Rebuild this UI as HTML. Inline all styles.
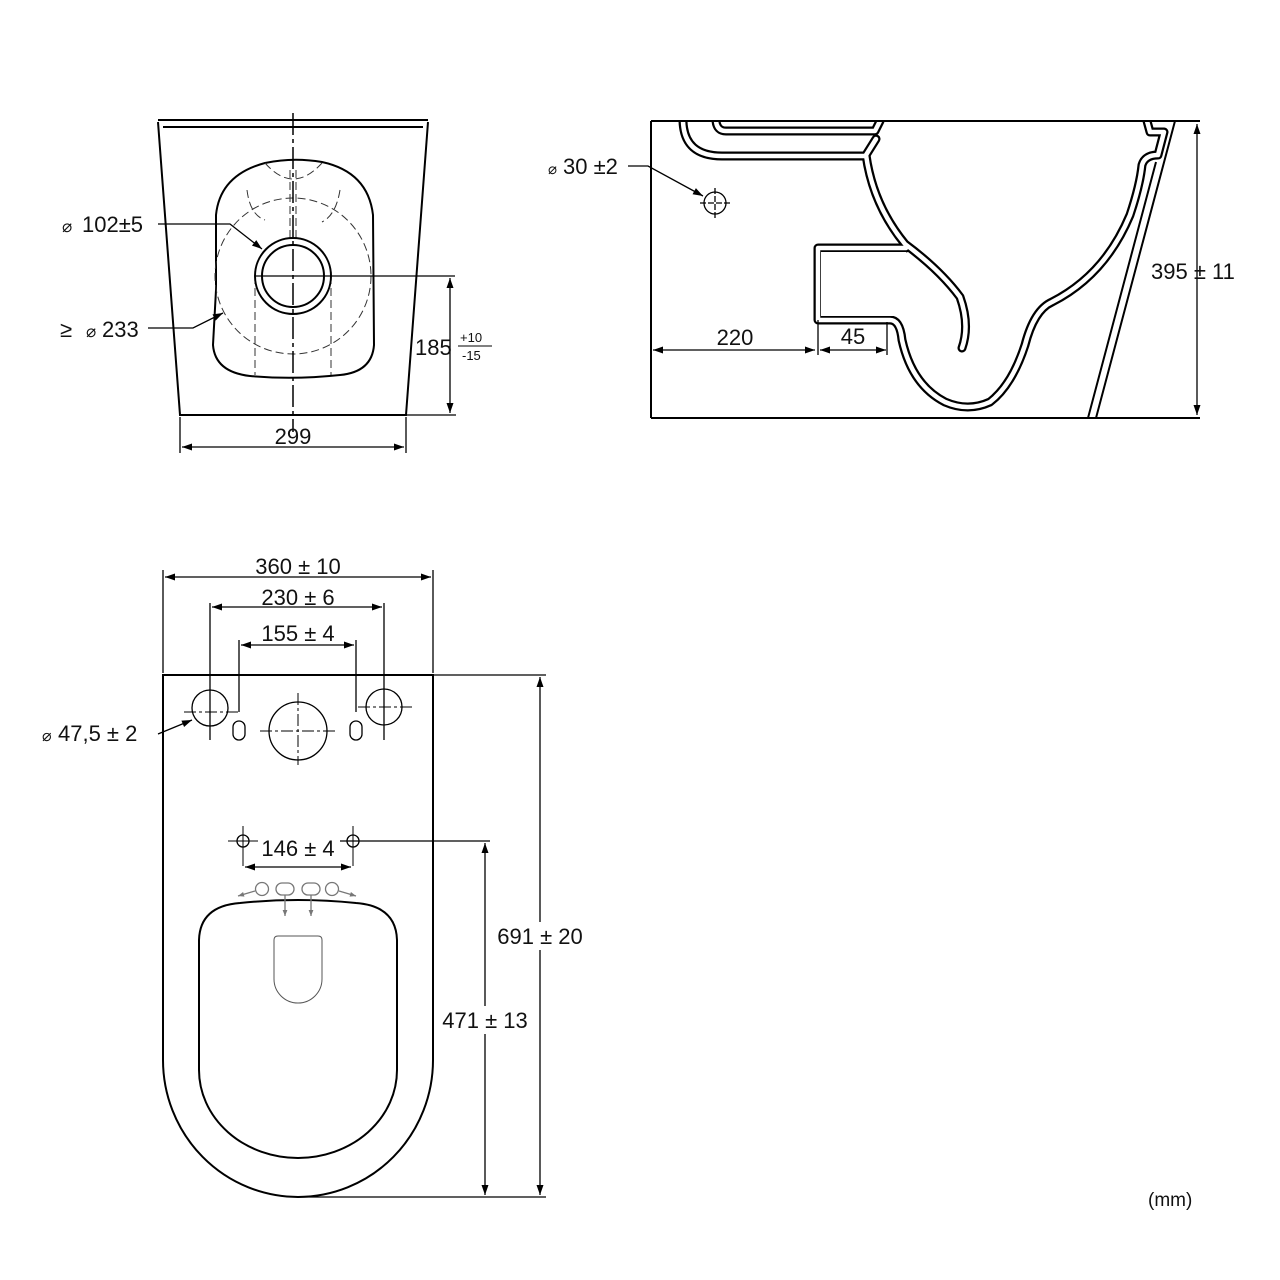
<!DOCTYPE html>
<html><head><meta charset="utf-8"><style>
html,body{margin:0;padding:0;background:#fff}
svg{display:block}
text{font-family:"Liberation Sans",sans-serif;fill:#111}
</style></head><body>
<svg width="1280" height="1280" viewBox="0 0 1280 1280" xmlns="http://www.w3.org/2000/svg">
<defs>
<marker id="a" viewBox="0 0 10 10" refX="10" refY="5" markerWidth="14" markerHeight="10" markerUnits="userSpaceOnUse" orient="auto-start-reverse"><path d="M0,1.5 L10,5 L0,8.5 z" fill="#000"/></marker>
<marker id="g" viewBox="0 0 10 10" refX="10" refY="5" markerWidth="8" markerHeight="6" markerUnits="userSpaceOnUse" orient="auto"><path d="M0,1 L10,5 L0,9 z" fill="#777"/></marker>
</defs>
<g fill="none" stroke="#000" stroke-width="1.3">
<!-- ===== Top-left view ===== -->
<path d="M158,120 L428,120 M163,127 L423,127" stroke-width="2"/>
<path d="M158,122 L180,415 L406,415 L428,122" stroke-width="2"/>
<path d="M216,290 L216,215 Q220,175 265,163 Q293,157 322,162 Q368,172 373,215 L374,345 Q372,372 340,375 Q293,380 250,376 Q215,372 213,345 Z" stroke-width="2"/>
<g stroke-dasharray="8,4" stroke-width="1" stroke="#333">
<circle cx="293" cy="276" r="78"/>
<path d="M265,163 Q293,195 322,163"/>
<path d="M247,190 Q250,215 265,220 M340,190 Q336,215 322,222"/>
<line x1="255" y1="276" x2="255" y2="375"/><line x1="331" y1="276" x2="331" y2="375"/>
<line x1="290" y1="170" x2="290" y2="238"/><line x1="296" y1="170" x2="296" y2="238"/>
</g>
<circle cx="293" cy="276" r="38" stroke-width="2"/>
<circle cx="293" cy="276" r="31" stroke-width="2"/>
<line x1="293" y1="113" x2="293" y2="432" stroke-dasharray="22,4,4,4" stroke-width="1.5"/>
<line x1="255" y1="276" x2="455" y2="276"/>
<line x1="406" y1="415" x2="456" y2="415"/>
<line x1="450" y1="278" x2="450" y2="413" marker-start="url(#a)" marker-end="url(#a)"/>
<line x1="180" y1="417" x2="180" y2="453"/><line x1="406" y1="417" x2="406" y2="453"/>
<line x1="182" y1="447" x2="404" y2="447" marker-start="url(#a)" marker-end="url(#a)"/>
<path d="M158,224 L230,224 L262,249" marker-end="url(#a)"/>
<path d="M148,328 L193,328 L223,313" marker-end="url(#a)"/>

<!-- ===== Side view ===== -->
<path d="M651,121 L1200,121 M651,418 L1200,418 M651,121 L651,418" stroke-width="2"/>
<path d="M1175,121 L1096,418 M1156,162 L1088,418" stroke-width="2"/>
<g stroke-width="9" stroke-linejoin="round" stroke-linecap="round">
<path id="p1" d="M683,121 Q684,156 722,156 L866,156"/>
<path id="p2" d="M716,121 Q717,131 726,131 L875,131 L880,121"/>
<path id="p3" d="M876,139 L866,155 Q873,205 905,244 Q940,270 960,297 Q970,325 962,348"/>
<path id="p4" d="M906,248 L818,248 L818,320 L890,320 Q900,320 902,340 Q912,385 945,402 Q968,412 990,402 Q1012,385 1025,345 Q1034,310 1052,302 Q1105,275 1130,215 Q1140,185 1142,165 Q1145,155 1158,155 L1164,132 L1150,132 L1147,121"/>
</g>
<g stroke="#fff" stroke-width="4.5" stroke-linejoin="round" stroke-linecap="round">
<use href="#p1"/><use href="#p2"/><use href="#p3"/><use href="#p4"/>
</g>
<rect x="652" y="115" width="530" height="5" fill="#fff" stroke="none"/>
<rect x="821" y="252" width="85" height="64" fill="#fff" stroke="none"/>
<line x1="651" y1="121" x2="1200" y2="121" stroke-width="2"/>
<circle cx="715" cy="203" r="11"/>
<line x1="700" y1="203" x2="731" y2="203" stroke-dasharray="6,2"/>
<line x1="715" y1="188" x2="715" y2="220" stroke-dasharray="6,2"/>
<path d="M628,166 L648,166 L703,196" marker-end="url(#a)"/>
<line x1="1197" y1="124" x2="1197" y2="415" marker-start="url(#a)" marker-end="url(#a)"/>
<line x1="653" y1="350" x2="815" y2="350" marker-start="url(#a)" marker-end="url(#a)"/>
<line x1="820" y1="350" x2="886" y2="350" marker-start="url(#a)" marker-end="url(#a)"/>
<line x1="818" y1="320" x2="818" y2="355"/><line x1="887" y1="322" x2="887" y2="355"/>

<!-- ===== Bottom view ===== -->
<path d="M163,675 L433,675 L433,1060 A135,137 0 0 1 163,1060 Z" stroke-width="2"/>
<path d="M199,940 Q200,906 240,903 Q298,897 356,903 Q396,906 397,940 L397,1070 A99,88 0 0 1 199,1070 Z" stroke-width="2"/>
<path d="M274,940 Q274,936 278,936 L318,936 Q322,936 322,940 L322,979 A24,24 0 0 1 274,979 Z" stroke="#555" stroke-width="1"/>
<line x1="163" y1="570" x2="163" y2="673"/><line x1="433" y1="570" x2="433" y2="673"/>
<line x1="165" y1="577" x2="431" y2="577" marker-start="url(#a)" marker-end="url(#a)"/>
<line x1="210" y1="603" x2="210" y2="740"/><line x1="384" y1="603" x2="384" y2="740"/>
<line x1="212" y1="607" x2="382" y2="607" marker-start="url(#a)" marker-end="url(#a)"/>
<line x1="239" y1="640" x2="239" y2="712"/><line x1="356" y1="640" x2="356" y2="712"/>
<line x1="241" y1="645" x2="354" y2="645" marker-start="url(#a)" marker-end="url(#a)"/>
<circle cx="210" cy="708" r="18"/><circle cx="384" cy="707" r="18"/>
<circle cx="298" cy="731" r="29"/>
<rect x="233" y="721" width="12" height="19" rx="6"/><rect x="350" y="721" width="12" height="19" rx="6"/>
<g stroke-dasharray="12,3,3,3" stroke-width="1">
<line x1="184" y1="712" x2="238" y2="712"/><line x1="210" y1="688" x2="210" y2="738"/>
<line x1="358" y1="707" x2="412" y2="707"/><line x1="384" y1="682" x2="384" y2="735"/>
<line x1="260" y1="731" x2="336" y2="731"/><line x1="298" y1="693" x2="298" y2="765"/>
</g>
<path d="M158,734 L192,720" marker-end="url(#a)"/>
<circle cx="243" cy="841" r="6"/><circle cx="353" cy="841" r="6"/>
<line x1="228" y1="841" x2="258" y2="841" stroke-width="1"/><line x1="243" y1="826" x2="243" y2="866" stroke-width="1"/>
<line x1="340" y1="841" x2="490" y2="841"/><line x1="353" y1="826" x2="353" y2="866" stroke-width="1"/>
<line x1="245" y1="867" x2="351" y2="867" marker-start="url(#a)" marker-end="url(#a)"/>
<line x1="433" y1="675" x2="546" y2="675"/>
<line x1="298" y1="1197" x2="546" y2="1197"/>
<line x1="540" y1="677" x2="540" y2="1195" marker-start="url(#a)" marker-end="url(#a)"/>
<line x1="485" y1="843" x2="485" y2="1195" marker-start="url(#a)" marker-end="url(#a)"/>
<g stroke="#777" stroke-width="1.3">
<circle cx="262" cy="889" r="6.5"/><rect x="276" y="883" width="18" height="12" rx="6"/><rect x="302" y="883" width="18" height="12" rx="6"/><circle cx="332" cy="889" r="6.5"/>
<line x1="255" y1="891" x2="238" y2="896" marker-end="url(#g)"/>
<line x1="339" y1="891" x2="356" y2="896" marker-end="url(#g)"/>
<line x1="285" y1="895" x2="285" y2="916" marker-end="url(#g)"/>
<line x1="311" y1="895" x2="311" y2="916" marker-end="url(#g)"/>
</g>
</g>
<!-- text -->
<g font-size="22">
<text x="62" y="232" font-size="17">⌀</text><text x="82" y="232">102±5</text>
<text x="60" y="337">≥</text><text x="86" y="337" font-size="17">⌀</text><text x="102" y="337">233</text>
<text x="415" y="355">185</text>
<text x="460" y="342" font-size="13">+10</text><line x1="458" y1="346" x2="492" y2="346" stroke="#000" stroke-width="1"/><text x="462" y="360" font-size="13">-15</text>
<text x="293" y="444" text-anchor="middle">299</text>
<text x="548" y="174" font-size="15">⌀</text><text x="563" y="174">30 ±2</text>
<text x="1151" y="279">395 ± 11</text>
<text x="735" y="345" text-anchor="middle">220</text>
<text x="853" y="344" text-anchor="middle">45</text>
<text x="298" y="574" text-anchor="middle">360 ± 10</text>
<text x="298" y="605" text-anchor="middle">230 ± 6</text>
<text x="298" y="641" text-anchor="middle">155 ± 4</text>
<text x="42" y="741" font-size="16">⌀</text><text x="58" y="741">47,5 ±  2</text>
<text x="298" y="856" text-anchor="middle">146 ± 4</text>
<rect x="490" y="922" width="100" height="28" fill="#fff"/>
<text x="540" y="944" text-anchor="middle">691 ± 20</text>
<rect x="436" y="1006" width="100" height="28" fill="#fff"/>
<text x="485" y="1028" text-anchor="middle">471 ± 13</text>
<text x="1148" y="1206" font-size="19">(mm)</text>
</g>
</svg>
</body></html>
